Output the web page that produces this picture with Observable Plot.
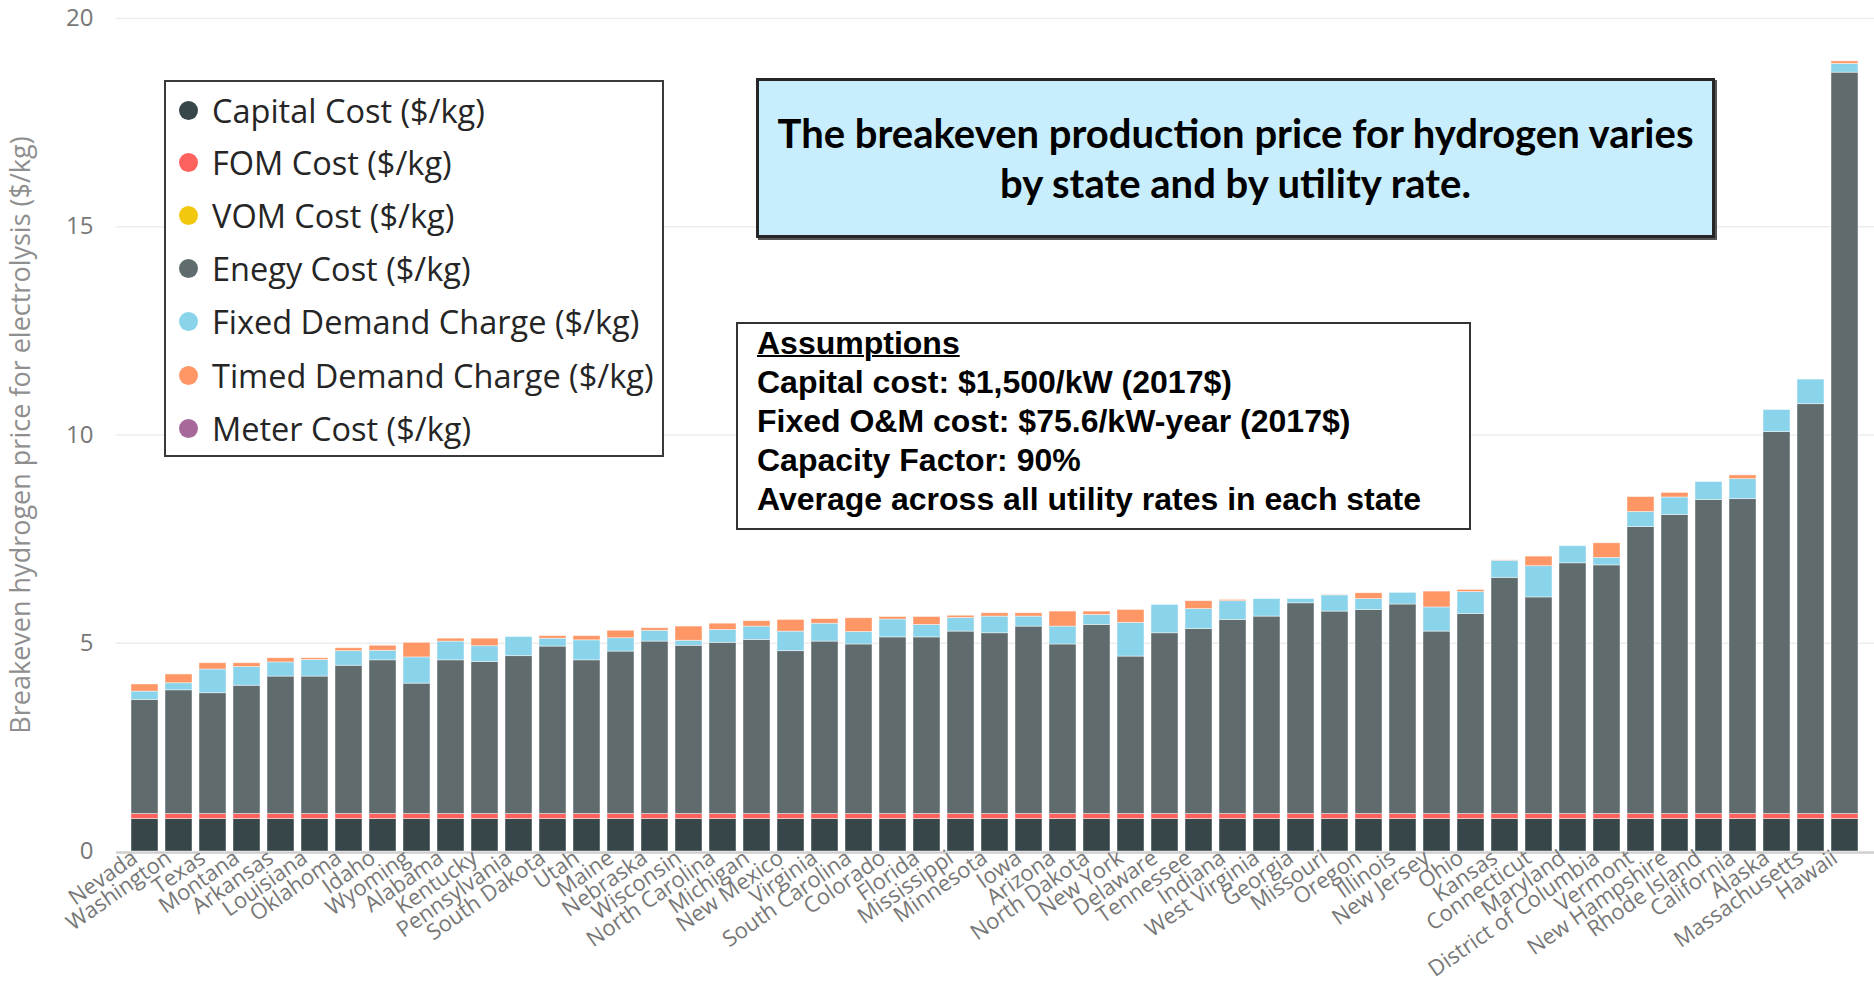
<!DOCTYPE html>
<html>
<head>
<meta charset="utf-8">
<script src="https://cdn.jsdelivr.net/npm/d3@7"></script>
<script src="https://cdn.jsdelivr.net/npm/@observablehq/plot@0.6"></script>
<style>
  html, body { margin: 0; padding: 0; background: #fff; overflow: hidden; }
  #wrap { position: relative; width: 1874px; height: 986px; }
  #wrap svg { position: absolute; left: 0; top: 0; }
  .legend { position: absolute; left: 164px; top: 80px; width: 496px; height: 373px;
    border: 2px solid #3a3a3a; background: #fff; font-family: "Open Sans", sans-serif; }
  .legend .row { position: absolute; left: 0; height: 40px; display: flex; align-items: center;
    font-size: 32.5px; color: #252525; white-space: nowrap; }
  .legend .dot { width: 19px; height: 19px; border-radius: 50%; margin-left: 13px; margin-right: 14px; }
  .titlebox { position: absolute; left: 756px; top: 78px; width: 953px; height: 154px;
    border: 3px solid #262626; background: #c8eefd; box-shadow: 2px 2px 0 #555;
    font-family: Lato, "Open Sans", sans-serif; font-weight: 700; font-size: 40px; color: #000;
    text-align: center; display: flex; flex-direction: column; justify-content: center; line-height: 50px; }
  .assump { position: absolute; left: 736px; top: 322px; width: 712px; height: 204px;
    border: 2px solid #333; background: #fff; font-family: "Liberation Sans", Arial, sans-serif;
    font-weight: 700; font-size: 32px; color: #000; line-height: 39px; padding-left: 19px; box-sizing: content-box; }
  .assump .l { white-space: nowrap; }
  .assump .u { text-decoration: underline; text-decoration-thickness: 2px; }
</style>
</head>
<body>
<div id="wrap"></div>
<script>
// ---- data ----
const states = ["Nevada","Washington","Texas","Montana","Arkansas","Louisiana","Oklahoma","Idaho","Wyoming","Alabama",
  "Kentucky","Pennsylvania","South Dakota","Utah","Maine","Nebraska","Wisconsin","North Carolina","Michigan","New Mexico",
  "Virginia","South Carolina","Colorado","Florida","Mississippi","Minnesota","Iowa","Arizona","North Dakota","New York",
  "Delaware","Tennessee","Indiana","West Virginia","Georgia","Missouri","Oregon","Illinois","New Jersey","Ohio",
  "Kansas","Connecticut","Maryland","District of Columbia","Vermont","New Hampshire","Rhode Island","California","Alaska","Massachusetts",
  "Hawaii"];

const capitalCost = [0.78,0.78,0.78,0.78,0.78,0.78,0.78,0.78,0.78,0.78,
  0.78,0.78,0.78,0.78,0.78,0.78,0.78,0.78,0.78,0.78,
  0.78,0.78,0.78,0.78,0.78,0.78,0.78,0.78,0.78,0.78,
  0.78,0.78,0.78,0.78,0.78,0.78,0.78,0.78,0.78,0.78,
  0.78,0.78,0.78,0.78,0.78,0.78,0.78,0.78,0.78,0.78,
  0.78];
const fomCost = [0.12,0.12,0.12,0.12,0.12,0.12,0.12,0.12,0.12,0.12,
  0.12,0.12,0.12,0.12,0.12,0.12,0.12,0.12,0.12,0.12,
  0.12,0.12,0.12,0.12,0.12,0.12,0.12,0.12,0.12,0.12,
  0.12,0.12,0.12,0.12,0.12,0.12,0.12,0.12,0.12,0.12,
  0.12,0.12,0.12,0.12,0.12,0.12,0.12,0.12,0.12,0.12,
  0.12];
const vomCost = [0,0,0,0,0,0,0,0,0,0,
  0,0,0,0,0,0,0,0,0,0,
  0,0,0,0,0,0,0,0,0,0,
  0,0,0,0,0,0,0,0,0,0,
  0,0,0,0,0,0,0,0,0,0,
  0];
const energyCost = [2.74,2.97,2.90,3.08,3.30,3.30,3.56,3.69,3.13,3.69,
  3.65,3.79,4.02,3.69,3.90,4.14,4.04,4.11,4.18,3.91,
  4.14,4.07,4.24,4.24,4.38,4.34,4.50,4.07,4.54,3.78,
  4.34,4.44,4.66,4.74,5.06,4.86,4.90,5.03,4.38,4.80,
  5.67,5.20,6.02,5.97,6.89,7.18,7.54,7.56,9.17,9.84,
  17.80];
const fixedDemandCharge = [0.20,0.17,0.57,0.45,0.34,0.40,0.35,0.23,0.63,0.45,
  0.38,0.46,0.19,0.48,0.32,0.26,0.12,0.31,0.32,0.47,
  0.43,0.30,0.43,0.30,0.33,0.40,0.24,0.43,0.24,0.81,
  0.68,0.48,0.45,0.42,0.10,0.39,0.26,0.28,0.58,0.53,
  0.41,0.75,0.41,0.18,0.36,0.42,0.43,0.48,0.53,0.59,
  0.21];
const timedDemandCharge = [0.17,0.21,0.15,0.09,0.10,0.04,0.07,0.12,0.35,0.07,
  0.18,0.00,0.06,0.10,0.18,0.06,0.34,0.15,0.13,0.28,
  0.11,0.33,0.06,0.19,0.05,0.08,0.08,0.36,0.08,0.31,
  0.00,0.19,0.03,0.00,0.00,0.01,0.14,0.00,0.38,0.05,
  0.01,0.23,0.00,0.35,0.36,0.11,0.00,0.09,0.00,0.00,
  0.06];
const meterCost = [0,0,0,0,0,0,0,0,0,0,
  0,0,0,0,0,0,0,0,0,0,
  0,0,0,0,0,0,0,0,0,0,
  0,0,0,0,0,0,0,0,0,0,
  0,0,0,0,0,0,0,0,0,0,
  0];

const components = ["Capital Cost ($/kg)","FOM Cost ($/kg)","VOM Cost ($/kg)","Enegy Cost ($/kg)",
  "Fixed Demand Charge ($/kg)","Timed Demand Charge ($/kg)","Meter Cost ($/kg)"];
const componentColors = ["#374649","#fd625e","#f2c80f","#5f6b6d","#8ad4eb","#fe9666","#a66999"];
const yTicks = [0, 5, 10, 15, 20];
const yLabel = "Breakeven hydrogen price for electrolysis ($/kg)";
const titleLines = ["The breakeven production price for hydrogen varies", "by state and by utility rate."];
const assumptionLines = ["Capital cost: $1,500/kW (2017$)", "Fixed O&M cost: $75.6/kW-year (2017$)",
  "Capacity Factor: 90%", "Average across all utility rates in each state"];

// ---- build ----
const series = [capitalCost, fomCost, vomCost, energyCost, fixedDemandCharge, timedDemandCharge, meterCost];
const rows = components.flatMap((c, k) => states.map((s, i) => ({state: s, component: c, value: series[k][i]})));

const chart = Plot.plot({
  width: 1874,
  height: 986,
  marginLeft: 116,
  marginRight: 0,
  marginTop: 18,
  marginBottom: 135,
  style: {fontFamily: "'Open Sans', sans-serif", background: "#fff"},
  x: {type: "band", domain: states, paddingInner: 0.2, paddingOuter: 0.1, label: null},
  y: {domain: [0, 20], label: null},
  color: {domain: components, range: componentColors},
  marks: [
    Plot.gridY(yTicks.filter(d => d > 0), {stroke: "#000", strokeOpacity: 0.075, strokeWidth: 1.5}),
    Plot.ruleY([0], {stroke: "#cfcfcf", strokeWidth: 2.5, dy: 1}),
    Plot.barY(rows, {x: "state", y: "value", fill: "component", order: components,
      stroke: "#fff", strokeOpacity: 0.55, strokeWidth: 0.8}),
    Plot.axisY({ticks: yTicks, tickSize: 0, tickPadding: 23, fontSize: 24, fill: "#777"}),
    Plot.axisX({tickRotate: -35, tickSize: 0, tickPadding: 4, dx: -10, fontSize: 22, fill: "#777"}),
    Plot.text([yLabel], {frameAnchor: "left", rotate: -90, dx: -95, textAnchor: "middle",
      fontSize: 27, fill: "#8f8f8f"})
  ]
});
const wrap = document.getElementById("wrap");
wrap.appendChild(chart);

// legend
const leg = document.createElement("div");
leg.className = "legend";
const rowCenters = [110, 162, 215, 268, 321, 375, 428];
components.forEach((c, k) => {
  const r = document.createElement("div");
  r.className = "row";
  r.style.top = (rowCenters[k] - 82 - 20) + "px";
  const dot = document.createElement("span");
  dot.className = "dot";
  dot.style.background = componentColors[k];
  const t = document.createElement("span");
  t.textContent = c;
  r.appendChild(dot); r.appendChild(t);
  leg.appendChild(r);
});
wrap.appendChild(leg);

// title box
const tb = document.createElement("div");
tb.className = "titlebox";
titleLines.forEach(l => { const d = document.createElement("div"); d.textContent = l; tb.appendChild(d); });
wrap.appendChild(tb);

// assumptions box
const ab = document.createElement("div");
ab.className = "assump";
const h = document.createElement("div"); h.className = "l u"; h.textContent = "Assumptions"; ab.appendChild(h);
assumptionLines.forEach(l => { const d = document.createElement("div"); d.className = "l"; d.textContent = l; ab.appendChild(d); });
wrap.appendChild(ab);
</script>
</body>
</html>
